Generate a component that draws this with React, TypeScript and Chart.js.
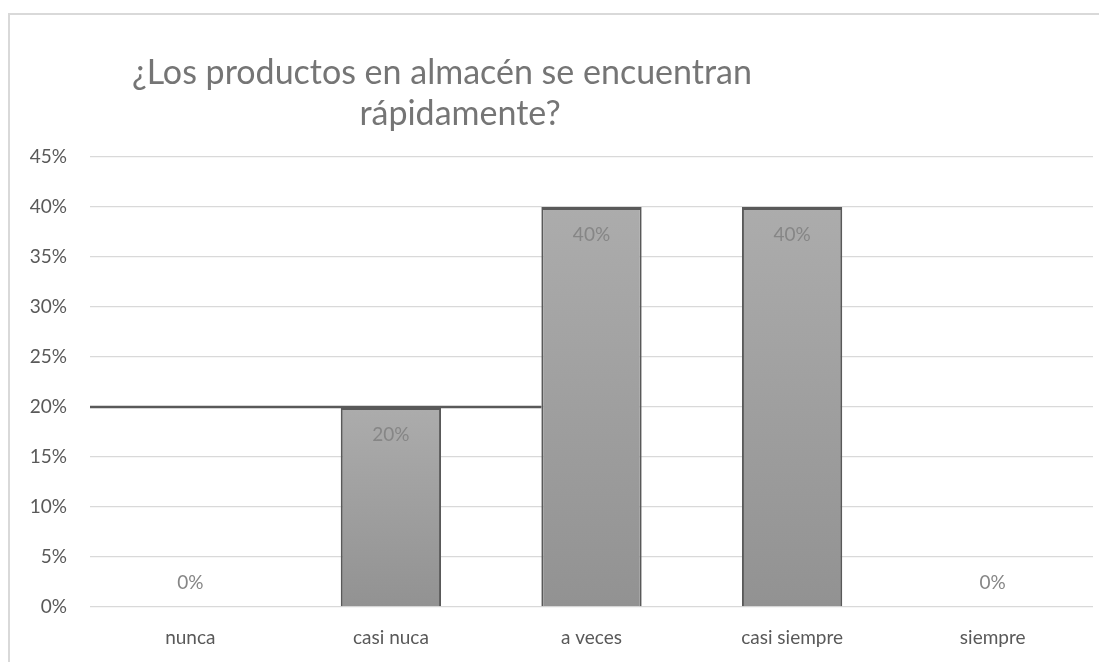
import React, { useEffect, useRef } from "react";
import { Chart, registerables } from "chart.js";

Chart.register(...registerables);

const categories = ["nunca", "casi nuca", "a veces", "casi siempre", "siempre"];
const values = [0, 20, 40, 40, 0];
const yMax = 45;
const yStep = 5;
const titleLines = ["¿Los productos en almacén se encuentran", "rápidamente?"];
const highlightValue = 20;

const FONT = "Lato, 'Open Sans', sans-serif";
const TEXT_GRAY = "#595959";
const LABEL_GRAY = "#868686";
const TITLE_GRAY = "#757575";
const GRID_GRAY = "#d9d9d9";
const BAR_BORDER = "#595959";

const titlePlugin = {
  id: "customTitle",
  afterDraw(chart: any) {
    const ctx = chart.ctx;
    ctx.save();
    ctx.fillStyle = TITLE_GRAY;
    ctx.font = `34px ${FONT}`;
    ctx.textAlign = "center";
    ctx.textBaseline = "middle";
    ctx.fillText(titleLines[0], 432, 58);
    ctx.fillText(titleLines[1], 450, 99);
    ctx.restore();
  },
};

const refLinePlugin = {
  id: "refLine",
  beforeDatasetsDraw(chart: any) {
    const meta = chart.getDatasetMeta(0);
    const bar = meta.data[2];
    if (!bar) return;
    const y = chart.scales.y.getPixelForValue(highlightValue);
    const props = bar.getProps(["x", "width"], true);
    const ctx = chart.ctx;
    ctx.save();
    ctx.strokeStyle = "#595959";
    ctx.lineWidth = 2.5;
    ctx.beginPath();
    ctx.moveTo(chart.chartArea.left, y);
    ctx.lineTo(props.x - props.width / 2, y);
    ctx.stroke();
    ctx.restore();
  },
};

const dataLabelPlugin = {
  id: "dataLabels",
  afterDatasetsDraw(chart: any) {
    const ctx = chart.ctx;
    const meta = chart.getDatasetMeta(0);
    ctx.save();
    ctx.font = `19px ${FONT}`;
    ctx.fillStyle = LABEL_GRAY;
    ctx.textAlign = "center";
    ctx.textBaseline = "middle";
    meta.data.forEach((el: any, i: number) => {
      const p = el.getProps(["x", "y", "base"], true);
      const v = values[i];
      const y = v > 0 ? p.y + 28 : p.base - 24;
      ctx.fillText(`${v}%`, p.x, y);
    });
    ctx.restore();
  },
};

export default function App() {
  const canvasRef = useRef<HTMLCanvasElement | null>(null);

  useEffect(() => {
    if (!canvasRef.current) return;
    const chart = new Chart(canvasRef.current, {
      type: "bar",
      data: {
        labels: categories,
        datasets: [
          {
            data: values,
            backgroundColor: (context: any) => {
              const c = context.chart;
              const area = c.chartArea;
              if (!area) return "#a0a0a0";
              const v = values[context.dataIndex] ?? 0;
              const yTop = c.scales.y.getPixelForValue(v);
              const yBot = c.scales.y.getPixelForValue(0);
              if (!isFinite(yTop) || !isFinite(yBot) || yTop === yBot) return "#a0a0a0";
              const g = c.ctx.createLinearGradient(0, yTop, 0, yBot);
              g.addColorStop(0, "#acacac");
              g.addColorStop(1, "#929292");
              return g;
            },
            borderColor: BAR_BORDER,
            borderWidth: { top: 3, left: 2, right: 2, bottom: 0 },
            borderSkipped: "bottom",
            categoryPercentage: 0.5,
            barPercentage: 1,
          },
        ],
      },
      options: {
        animation: false,
        responsive: true,
        maintainAspectRatio: false,
        layout: { padding: { top: 142, right: 14, left: 0, bottom: 0 } },
        plugins: {
          legend: { display: false },
          title: { display: false },
          tooltip: { enabled: false },
        },
        scales: {
          x: {
            grid: { display: false, drawTicks: false },
            border: { display: false },
            ticks: {
              color: TEXT_GRAY,
              font: { family: FONT, size: 19 },
              padding: 19,
            },
            afterFit: (scale: any) => {
              scale.height = 55;
            },
          },
          y: {
            min: 0,
            max: yMax,
            grid: { color: GRID_GRAY, lineWidth: 1.3, drawTicks: false },
            border: { display: false },
            ticks: {
              stepSize: yStep,
              color: TEXT_GRAY,
              font: { family: FONT, size: 19 },
              padding: 23,
              callback: (v: any) => `${v}%`,
            },
            afterFit: (scale: any) => {
              scale.width = 80;
            },
          },
        },
      },
      plugins: [titlePlugin, refLinePlugin, dataLabelPlugin],
    });
    return () => chart.destroy();
  }, []);

  return (
    <div
      style={{
        width: 1099,
        height: 649,
        marginTop: 5,
        borderTop: `2px solid ${GRID_GRAY}`,
        borderLeft: `2px solid ${GRID_GRAY}`,
        boxSizing: "border-box",
        position: "relative",
        background: "#fff",
      }}
    >
      <canvas ref={canvasRef} />
    </div>
  );
}
